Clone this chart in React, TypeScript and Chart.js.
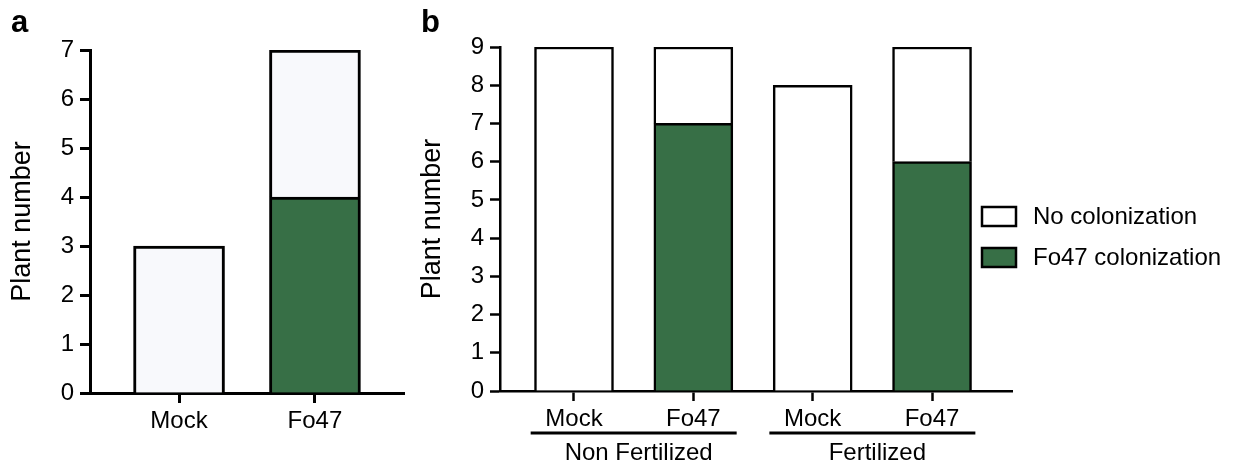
import React, { useEffect, useRef } from 'react';
import { Chart, registerables } from 'chart.js';

Chart.register(...registerables);

// ---------- Data ----------
const panelACategories = ['Mock', 'Fo47'];
const panelANoColonization = [3, 3];
const panelAFo47Colonization = [0, 4];

const panelBCategories = ['Mock', 'Fo47', 'Mock', 'Fo47'];
const panelBGroups = ['Non Fertilized', 'Fertilized'];
const panelBNoColonization = [9, 2, 8, 3];
const panelBFo47Colonization = [0, 7, 0, 6];

const legendLabels = ['No colonization', 'Fo47 colonization'];
const yAxisTitle = 'Plant number';

// ---------- Styles ----------
const FONT = '"Liberation Sans", Arial, Helvetica, sans-serif';
const GREEN = '#376f46';
const LIGHT_A = '#f8f9fc';
const WHITE = '#ffffff';

type PanelOpts = {
  categories: string[];
  noCol: number[];
  fo47Col: number[];
  yMax: number;
  xMin: number;
  xMax: number;
  lineWidth: number;
  barThickness: number;
  noColFill: string;
  padTop: number;
  padRight: number;
  xHeight: number;
  plugins: any[];
};

function buildConfig(o: PanelOpts): any {
  const tickFont = { family: FONT, size: 24 };
  return {
    type: 'bar',
    data: {
      datasets: [
        {
          label: legendLabels[1],
          data: o.categories.map((_, i) => ({ x: i, y: o.fo47Col[i] })),
          backgroundColor: GREEN,
          borderColor: '#000',
          borderWidth: o.lineWidth,
          borderSkipped: 'start',
          barThickness: o.barThickness,
        },
        {
          label: legendLabels[0],
          data: o.categories.map((_, i) => ({ x: i, y: o.noCol[i] })),
          backgroundColor: o.noColFill,
          borderColor: '#000',
          borderWidth: o.lineWidth,
          borderSkipped: 'start',
          barThickness: o.barThickness,
        },
      ],
    },
    options: {
      animation: false,
      responsive: false,
      maintainAspectRatio: false,
      layout: { padding: { top: o.padTop, right: o.padRight, left: 0, bottom: 0 } },
      plugins: { legend: { display: false }, tooltip: { enabled: false } },
      scales: {
        x: {
          type: 'linear',
          min: o.xMin,
          max: o.xMax,
          stacked: true,
          offset: false,
          afterBuildTicks: (s: any) => {
            s.ticks = o.categories.map((_, i) => ({ value: i }));
          },
          afterFit: (s: any) => {
            s.height = o.xHeight;
          },
          ticks: {
            callback: (v: any) => o.categories[v] ?? '',
            font: tickFont,
            color: '#000',
            padding: 4,
            maxRotation: 0,
            autoSkip: false,
          },
          grid: {
            display: true,
            offset: false,
            drawOnChartArea: false,
            drawTicks: true,
            tickLength: 10,
            tickWidth: o.lineWidth,
            tickColor: '#000',
          },
          border: { display: true, color: '#000', width: o.lineWidth },
        },
        y: {
          stacked: true,
          min: 0,
          max: o.yMax,
          afterFit: (s: any) => {
            s.width = 90;
          },
          ticks: { stepSize: 1, font: tickFont, color: '#000', padding: 6 },
          grid: {
            display: true,
            drawOnChartArea: false,
            drawTicks: true,
            tickLength: 10,
            tickWidth: o.lineWidth,
            tickColor: '#000',
          },
          border: { display: true, color: '#000', width: o.lineWidth },
          title: {
            display: true,
            text: yAxisTitle,
            font: { family: FONT, size: 27 },
            color: '#000',
            padding: { top: 6, bottom: 0 },
          },
        },
      },
    },
    plugins: o.plugins,
  };
}

const groupPlugin = {
  id: 'groupLabels',
  afterDraw(chart: any) {
    const { ctx } = chart;
    const xs = chart.scales.x;
    ctx.save();
    ctx.strokeStyle = '#000';
    ctx.fillStyle = '#000';
    ctx.lineWidth = 3;
    ctx.font = `24px ${FONT}`;
    ctx.textAlign = 'center';
    ctx.textBaseline = 'middle';
    panelBGroups.forEach((g, gi) => {
      const a = xs.getPixelForValue(gi * 2);
      const b = xs.getPixelForValue(gi * 2 + 1);
      const c = (a + b) / 2;
      ctx.beginPath();
      ctx.moveTo(c - 103, 433);
      ctx.lineTo(c + 103, 433);
      ctx.stroke();
      ctx.fillText(g, c + 5, 453);
    });
    ctx.restore();
  },
};

const legendPlugin = {
  id: 'customLegend',
  afterDraw(chart: any) {
    const { ctx, chartArea } = chart;
    const x0 = chartArea.right - 30;
    const items = [
      { text: legendLabels[0], fill: WHITE, top: 207 },
      { text: legendLabels[1], fill: GREEN, top: 248 },
    ];
    ctx.save();
    ctx.font = `24px ${FONT}`;
    ctx.textAlign = 'left';
    ctx.textBaseline = 'middle';
    items.forEach((it) => {
      ctx.fillStyle = it.fill;
      ctx.fillRect(x0, it.top, 34, 19);
      ctx.strokeStyle = '#000';
      ctx.lineWidth = 2.5;
      ctx.strokeRect(x0, it.top, 34, 19);
      ctx.fillStyle = '#000';
      ctx.fillText(it.text, x0 + 51, it.top + 10);
    });
    ctx.restore();
  },
};

function ChartCanvas({ config, width, height }: { config: () => any; width: number; height: number }) {
  const ref = useRef<HTMLCanvasElement | null>(null);
  useEffect(() => {
    if (!ref.current) return;
    const chart = new Chart(ref.current, config());
    return () => chart.destroy();
  }, []);
  return <canvas ref={ref} width={width} height={height} style={{ width, height, display: 'block' }} />;
}

export default function App() {
  const panelLabel = (left: number): React.CSSProperties => ({
    position: 'absolute',
    left,
    top: 2,
    fontFamily: FONT,
    fontWeight: 'bold',
    fontSize: 31,
    lineHeight: '40px',
    color: '#000',
  });
  return (
    <div style={{ position: 'absolute', left: 0, top: 0, width: 1236, height: 464, background: '#fff', overflow: 'hidden' }}>
      <div style={{ position: 'absolute', left: 0, top: 0 }}>
        <ChartCanvas
          width={420}
          height={464}
          config={() =>
            buildConfig({
              categories: panelACategories,
              noCol: panelANoColonization,
              fo47Col: panelAFo47Colonization,
              yMax: 7,
              xMin: -0.655,
              xMax: 1.655,
              lineWidth: 3,
              barThickness: 91,
              noColFill: LIGHT_A,
              padTop: 50,
              padRight: 16,
              xHeight: 71,
              plugins: [],
            })
          }
        />
      </div>
      <div style={{ position: 'absolute', left: 410, top: 0 }}>
        <ChartCanvas
          width={826}
          height={464}
          config={() =>
            buildConfig({
              categories: panelBCategories,
              noCol: panelBNoColonization,
              fo47Col: panelBFo47Colonization,
              yMax: 9,
              xMin: -0.62,
              xMax: 3.67,
              lineWidth: 2.5,
              barThickness: 79,
              noColFill: WHITE,
              padTop: 47,
              padRight: 224,
              xHeight: 73,
              plugins: [groupPlugin, legendPlugin],
            })
          }
        />
      </div>
      <div style={panelLabel(11)}>a</div>
      <div style={panelLabel(421)}>b</div>
    </div>
  );
}
